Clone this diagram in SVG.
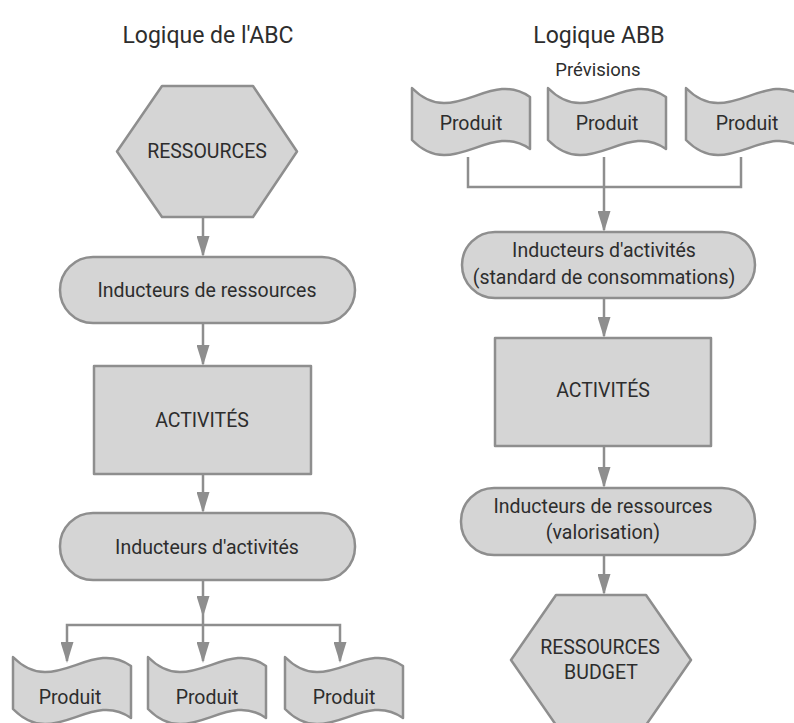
<svg xmlns="http://www.w3.org/2000/svg" width="794" height="723" viewBox="0 0 794 723">
<style>
.shape{fill:#d5d5d5;stroke:#8e8e8e;stroke-width:2.5;stroke-linejoin:round}
.conn{fill:none;stroke:#8e8e8e;stroke-width:2.5}
text{font-family:Roboto,"Liberation Sans",sans-serif;font-size:19.5px;fill:#2d2d2d;text-anchor:middle}
.title{font-size:23px}
.small{font-size:18.5px}
</style>
<defs>
<marker id="arr" markerUnits="userSpaceOnUse" markerWidth="21" markerHeight="13" viewBox="0 0 21 13" refX="19" refY="6.5" orient="auto-start-reverse">
<path d="M0,0 L21,6.5 L0,13 Z" fill="#8e8e8e"/>
</marker>
</defs>
<rect width="794" height="723" fill="#ffffff"/>

<text class="title" x="208" y="43">Logique de l'ABC</text>
<text class="title" x="599" y="43">Logique ABB</text>
<text class="small" x="598" y="76">Prévisions</text>

<g id="connectors">
<path class="conn" d="M203,217 V255" marker-end="url(#arr)"/>
<path class="conn" d="M203,323 V364" marker-end="url(#arr)"/>
<path class="conn" d="M203,474 V511" marker-end="url(#arr)"/>
<path class="conn" d="M203,580 V615" marker-end="url(#arr)"/>
<path class="conn" d="M67,661 V625 H340 V661" marker-start="url(#arr)" marker-end="url(#arr)"/>
<path class="conn" d="M203,615 V661" marker-end="url(#arr)"/>
<path class="conn" d="M468,157 V187 H741 V157"/>
<path class="conn" d="M604,157 V230" marker-end="url(#arr)"/>
<path class="conn" d="M604,298 V336" marker-end="url(#arr)"/>
<path class="conn" d="M604,446 V486" marker-end="url(#arr)"/>
<path class="conn" d="M604,555 V593" marker-end="url(#arr)"/>
</g>

<g id="abc-ressources">
<polygon class="shape" points="117,151.5 162,86 253,86 297,151.5 253,217 162,217"/>
<text x="207" y="158">RESSOURCES</text>
</g>
<g id="abc-inducteurs-ressources">
<rect class="shape" x="60" y="257" width="295" height="66" rx="33"/>
<text x="207" y="297">Inducteurs de ressources</text>
</g>
<g id="abc-activites">
<rect class="shape" x="94" y="366" width="217" height="108"/>
<text x="202" y="427">ACTIVITÉS</text>
</g>
<g id="abc-inducteurs-activites">
<rect class="shape" x="60" y="513" width="295" height="67" rx="33"/>
<text x="207" y="554">Inducteurs d'activités</text>
</g>
<g id="abc-produit-1">
<path class="shape" d="M13,657 C54,699 90,637 131,666 V718 C90,689 54,751 13,709 Z"/>
<text x="70" y="704">Produit</text>
</g>
<g id="abc-produit-2">
<path class="shape" d="M148,657 C189,699 225,637 266,666 V718 C225,689 189,751 148,709 Z"/>
<text x="207" y="704">Produit</text>
</g>
<g id="abc-produit-3">
<path class="shape" d="M285,657 C326,699 362,637 403,666 V718 C362,689 326,751 285,709 Z"/>
<text x="344" y="704">Produit</text>
</g>

<g id="abb-produit-1">
<path class="shape" d="M412,88 C453,130 489,68 530,97 V149 C489,120 453,182 412,140 Z"/>
<text x="471" y="130">Produit</text>
</g>
<g id="abb-produit-2">
<path class="shape" d="M548,88 C589,130 625,68 666,97 V149 C625,120 589,182 548,140 Z"/>
<text x="607" y="130">Produit</text>
</g>
<g id="abb-produit-3">
<path class="shape" d="M686,88 C727,130 763,68 804,97 V149 C763,120 727,182 686,140 Z"/>
<text x="747" y="130">Produit</text>
</g>
<g id="abb-inducteurs-activites">
<rect class="shape" x="462" y="232" width="293" height="66" rx="33"/>
<text x="604" y="257">Inducteurs d'activités</text>
<text x="604" y="284">(standard de consommations)</text>
</g>
<g id="abb-activites">
<rect class="shape" x="495" y="338" width="216" height="108"/>
<text x="603" y="397">ACTIVITÉS</text>
</g>
<g id="abb-inducteurs-ressources">
<rect class="shape" x="461" y="488" width="294" height="67" rx="33"/>
<text x="603" y="513">Inducteurs de ressources</text>
<text x="603" y="539">(valorisation)</text>
</g>
<g id="abb-ressources-budget">
<polygon class="shape" points="511,660 556,595 646,595 691,660 646,725 556,725"/>
<text x="600" y="654">RESSOURCES</text>
<text x="601" y="679">BUDGET</text>
</g>
</svg>
